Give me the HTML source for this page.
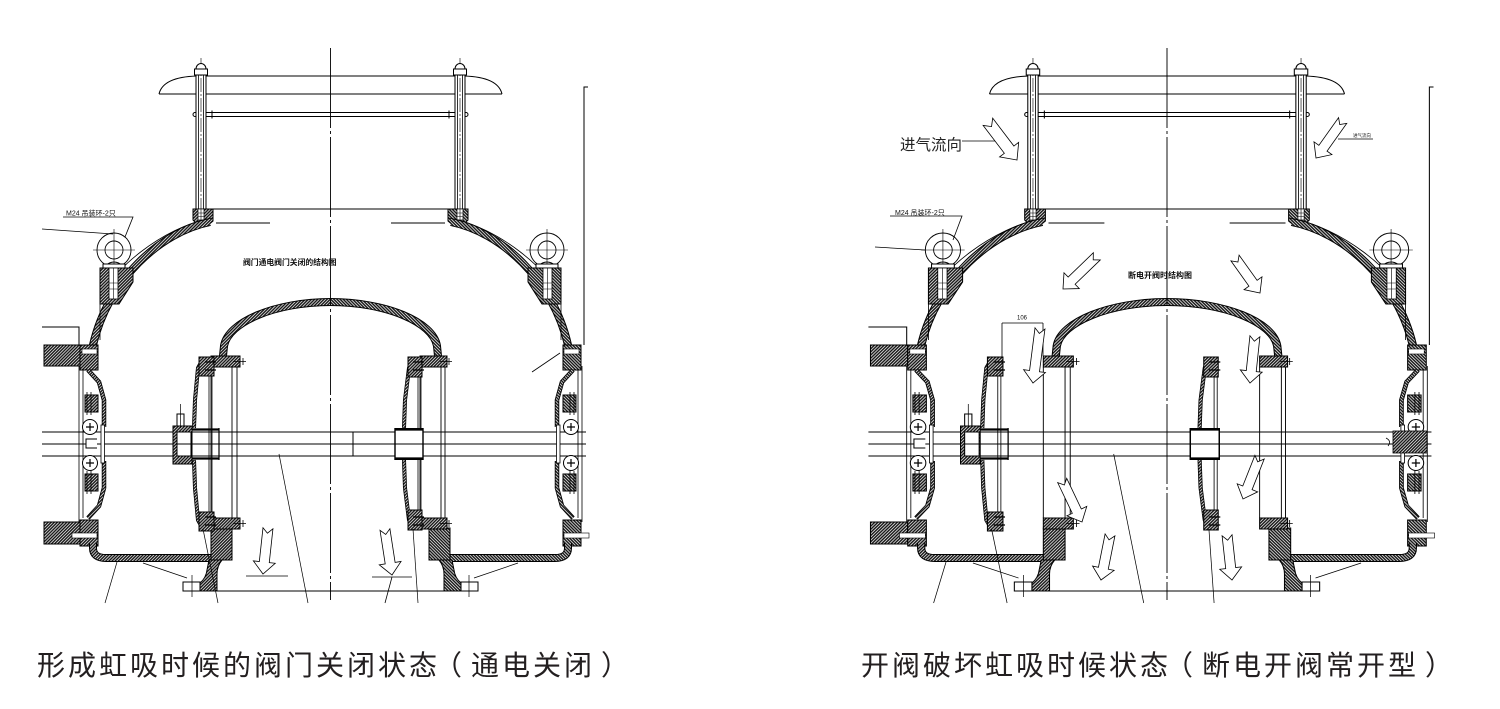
<!DOCTYPE html>
<html><head><meta charset="utf-8"><style>
html,body{margin:0;padding:0;background:#fff;}
svg{display:block;}
</style></head><body>
<svg width="1500" height="709" viewBox="0 0 1500 709" xmlns="http://www.w3.org/2000/svg">
<defs>
<pattern id="h" patternUnits="userSpaceOnUse" width="2.2" height="2.2" patternTransform="rotate(45)"><rect width="2.2" height="2.2" fill="#fff"/><rect width="1.5" height="2.2" fill="#1a1a1a"/></pattern>

<g id="half" fill="none" stroke="#000" stroke-width="1">
  <path d="M159,94 H331 M197,76 H331 M159,94 Q163,77 197,76"/>
  <path d="M197,112.5 H331 M197,116.5 H331 M212,110.5 V118.5"/>
  <circle cx="195" cy="114.5" r="2" fill="#fff"/>
  <rect x="196" y="74" width="10" height="135" fill="#fff"/>
  <path d="M198.5,75 V209 M203.5,75 V209" stroke-width="0.8"/>
  <path d="M201,58 V216" stroke-width="0.6" stroke-dasharray="14,2,2,2"/>
  <rect x="194.5" y="69" width="13" height="6" fill="#fff"/>
  <path d="M196,69 A5,5.5 0 0 1 206,69 Z" fill="#fff"/>
  <path d="M206,209 H331 M216,223 H270"/>
  <path d="M193,209 H213 V221 Q207,227 199,226 L193,220 Z" fill="url(#h)"/>
  <rect x="198" y="209" width="6" height="11" fill="#fff" stroke-width="0.7"/>
  <path d="M198,213 H204 M198,216.5 H204 M201,209 V220" stroke-width="0.6"/>
  <path d="M212,218 C162,227 110,272 101,298" stroke-width="0.8"/>
  <path d="M210,222 C160,232 108,280 93,345 L90,353" stroke-width="8"/>
  <path d="M210,222 C160,232 108,280 93,345 L90,353" stroke="url(#h)" stroke-width="6"/>
  <circle cx="114" cy="250" r="17" stroke-width="0.9"/>
  <circle cx="114" cy="250" r="9" stroke-width="0.9"/>
  <path d="M93,250 H135 M114,229 V271" stroke-width="0.6"/>
  <path d="M105,266 Q114,258 123,266" />
  <rect x="103" y="264" width="22" height="4" fill="#fff"/>
  <path d="M100,268 H133 V282 L119,304 H100 Z" fill="url(#h)"/>
  <rect x="109" y="268" width="9" height="31" fill="#fff" stroke-width="0.8"/>
  <path d="M109,283 H118 M109,289 H118 M113.5,268 V299" stroke-width="0.6"/>
  <path d="M100,303 V340" stroke-width="0.8"/>
  <rect x="80" y="345" width="18" height="25" fill="url(#h)"/>
  <rect x="82" y="349" width="15" height="5" fill="#fff" stroke-width="0.6"/>
  <path d="M79,366 V522 M83,370 V518" stroke-width="0.8"/>
  <path d="M88,370 L99,382 L104,400 L104,427 M104,461 L104,488 L99,506 L88,518" stroke-width="4.5"/>
  <path d="M88,370 L99,382 L104,400 L104,427 M104,461 L104,488 L99,506 L88,518" stroke="url(#h)" stroke-width="2.8"/>
  <rect x="85" y="395" width="13" height="17" fill="url(#h)"/>
  <rect x="85" y="474" width="13" height="17" fill="url(#h)"/>
  <path d="M87,392 V415 M91,392 V415 M87,471 V494 M91,471 V494" stroke-width="0.8"/>
  <circle cx="90" cy="427" r="7.5" fill="#fff"/>
  <circle cx="90" cy="463" r="7.5" fill="#fff"/>
  <path d="M86,427 H94 M90,423 V431 M86,463 H94 M90,459 V467" stroke-width="1.2"/>
  <rect x="101" y="425" width="3.5" height="38" fill="#fff" stroke-width="0.8"/>
  <rect x="80" y="520" width="18" height="26" fill="url(#h)"/>
  <rect x="72" y="533" width="25" height="5" fill="#fff" stroke-width="0.6"/>
  <path d="M93,543 V548 Q93,558 106,558 H213" stroke-width="8"/>
  <path d="M93,543 V548 Q93,558 106,558 H213" stroke="url(#h)" stroke-width="6"/>
  <rect x="211" y="528" width="21" height="32" fill="url(#h)"/>
  <path d="M209,560 H222 Q217,566 217,574 V591 H200 V583 Q206,578 207,570 Z" fill="url(#h)"/>
  <rect x="183" y="582" width="17" height="9" fill="#fff"/>
  <path d="M192,575 V597" stroke-width="0.7"/>
  <path d="M200,591 H331"/>
  <path d="M143,563 L187,578" stroke-width="0.7"/>
  <path d="M223,356 L224,346 C228,322 275,302 331,302" stroke-width="8"/>
  <path d="M223,356 L224,346 C228,322 275,302 331,302" stroke="url(#h)" stroke-width="6"/>
</g>

<g id="common" fill="none" stroke="#000" stroke-width="1">
  <path d="M42,432 H586 M42,444 H586 M42,456 H586"/>
  <rect x="44" y="345" width="36" height="21" fill="url(#h)"/>
  <rect x="44" y="522" width="36" height="22" fill="url(#h)"/>
  <path d="M42,327 H79 V345"/>
  <use href="#half"/>
  <use href="#half" transform="translate(661,0) scale(-1,1)"/>
  <path d="M97,439 H86 V448 H97" fill="#fff"/>
  <path d="M330.5,48 V600" stroke-width="0.9" stroke-dasharray="80,3,3,3"/>
  <path d="M584,345 V87 H588"/>
  <rect x="211" y="356" width="29" height="11" fill="url(#h)"/>
  <rect x="211" y="518" width="29" height="11" fill="url(#h)"/>
  <rect x="420" y="356" width="27" height="11" fill="url(#h)"/>
  <rect x="420" y="518" width="27" height="11" fill="url(#h)"/>
  <path d="M233,361.5 H246 M243,358 V365 M233,523.5 H246 M243,520 V527 M440,361.5 H452 M449,358 V365 M440,523.5 H452 M449,520 V527" stroke-width="0.8"/>
  <path d="M211,367 V518 M232,367 V518 M237,367 V518 M420,367 V518 M441,367 V518 M445,367 V518" stroke-width="0.9"/>
  <path d="M117,562 L105,603 M279,454 L308,603" stroke-width="0.7"/>
</g>

<g id="d1" fill="none" stroke="#000" stroke-width="1">
  <path d="M209,376 V512 M212,376 V512" stroke-width="0.8"/>
  <path d="M203,359 L198,368 L195,400 L194,428 M194,460 L195,488 L198,520 L203,529" stroke-width="4"/>
  <path d="M203,359 L198,368 L195,400 L194,428 M194,460 L195,488 L198,520 L203,529" stroke="url(#h)" stroke-width="2.5"/>
  <rect x="199" y="357" width="15" height="19" fill="url(#h)"/>
  <rect x="199" y="512" width="15" height="19" fill="url(#h)"/>
  <path d="M205,362 H216 M205,370 H216 M205,517 H216 M205,525 H216" stroke-width="1.2"/>
  <path d="M191,429.5 H219 M191,458.5 H219" stroke-width="2.2"/>
  <path d="M219,428 V460" stroke-width="1.2"/>
  <rect x="173" y="426" width="19" height="38" fill="url(#h)"/>
  <rect x="177" y="432" width="14" height="24" fill="#fff"/>
  <path d="M177,444 H191"/>
  <rect x="177" y="414" width="7" height="12" fill="#fff"/>
  <path d="M180.5,404 V428" stroke-width="0.7"/>
  <path d="M203,529 L218,603" stroke-width="0.7"/>
</g>

<g id="d2" fill="none" stroke="#000" stroke-width="1">
  <path d="M418,377 V510 M421,377 V510" stroke-width="0.8"/>
  <path d="M413,359 L409,368 L405,400 L404,428 M404,460 L405,488 L409,520 L413,529" stroke-width="4"/>
  <path d="M413,359 L409,368 L405,400 L404,428 M404,460 L405,488 L409,520 L413,529" stroke="url(#h)" stroke-width="2.5"/>
  <rect x="408" y="357" width="14" height="20" fill="url(#h)"/>
  <rect x="408" y="510" width="14" height="20" fill="url(#h)"/>
  <path d="M413,362 H424 M413,370 H424 M413,517 H424 M413,525 H424" stroke-width="1.2"/>
  <rect x="395" y="428.5" width="28" height="31" fill="#fff"/>
  <path d="M395,429.5 H423 M395,458.5 H423" stroke-width="2.2"/>
  <path d="M395,428 V460 M423,428 V460" stroke-width="1.4"/>
  <path d="M395,444 H423"/>
  <path d="M413,529 L418,603" stroke-width="0.7"/>
</g>
</defs>

<rect width="1500" height="709" fill="#fff"/>

<!-- LEFT DRAWING -->
<use href="#common"/>
<use href="#d1"/>
<use href="#d2"/>
<g fill="none" stroke="#000" stroke-width="0.8">
  <path d="M353,432 V456" stroke-width="1"/>
  <path d="M532,372 L560,353"/>
  <path d="M246,576 H288 M372,577 H412 M392,577 L385,603"/>
  <path d="M63,217 H133 L125,237 M42,229 L113,234"/>
</g>
<g fill="#fff" stroke="#000" stroke-width="0.8">
  <polygon transform="translate(263,574) rotate(6.2)" points="-5,-46 0,-41 5,-46 5,-12 11,-12 0,0 -11,-12 -5,-12"/>
  <polygon transform="translate(392,575) rotate(-8.8)" points="-5,-46 0,-41 5,-46 5,-12 11,-12 0,0 -11,-12 -5,-12"/>
</g>

<!-- RIGHT DRAWING -->
<g transform="translate(1167,0) scale(1.035,1) translate(-330.5,0)">
  <use href="#common"/>
  <use href="#d1" transform="translate(-42,0)"/>
  <use href="#d2" transform="translate(-42,0)"/>
</g>
<g fill="none" stroke="#000" stroke-width="0.8">
  <path d="M890,216 H962 L953,240 M875,247 L925,250"/>
  <path d="M962,141 H995"/>
  <path d="M1338,139 H1373"/>
  <path d="M1002,323 H1043 M1002,323 V358 M1043,323 V356"/>
</g>
<rect x="1393" y="431" width="34" height="22" fill="url(#h)" stroke="#000" stroke-width="0.8"/>
<path d="M1386,438 Q1392,441 1388,446" fill="none" stroke="#000" stroke-width="0.8"/>
<g fill="#fff" stroke="#000" stroke-width="0.8">
  <polygon transform="translate(1017,160) rotate(-37.3)" points="-6,-48 0,-42 6,-48 6,-13 12,-13 0,0 -12,-13 -6,-13"/>
  <polygon transform="translate(1316,158) rotate(35.4)" points="-5,-46 0,-41 5,-46 5,-12 11,-12 0,0 -11,-12 -5,-12"/>
  <polygon transform="translate(1063,289) rotate(46)" points="-5,-47 0,-42 5,-47 5,-12 11,-12 0,0 -11,-12 -5,-12"/>
  <polygon transform="translate(1260,293) rotate(-35.5)" points="-5,-43 0,-38 5,-43 5,-12 11,-12 0,0 -11,-12 -5,-12"/>
  <polygon transform="translate(1033,383) rotate(7.3)" points="-5,-55 0,-50 5,-55 5,-12 11,-12 0,0 -11,-12 -5,-12"/>
  <polygon transform="translate(1250,383) rotate(6)" points="-5,-47 0,-42 5,-47 5,-12 11,-12 0,0 -11,-12 -5,-12"/>
  <polygon transform="translate(1082,522) rotate(-25.5)" points="-5,-46 0,-41 5,-46 5,-12 11,-12 0,0 -11,-12 -5,-12"/>
  <polygon transform="translate(1243,499) rotate(21.6)" points="-5,-45 0,-40 5,-45 5,-12 11,-12 0,0 -11,-12 -5,-12"/>
  <polygon transform="translate(1101,580) rotate(11.3)" points="-5,-46 0,-41 5,-46 5,-12 11,-12 0,0 -11,-12 -5,-12"/>
  <polygon transform="translate(1232,580) rotate(-6.3)" points="-5,-45 0,-40 5,-45 5,-12 11,-12 0,0 -11,-12 -5,-12"/>
</g>

<!-- TEXT -->
<g font-family="'Liberation Sans','Noto Sans CJK SC',sans-serif" fill="#111">
  <text x="66" y="215.5" font-size="7">M24 吊装环-2只</text>
  <text x="895" y="215" font-size="7">M24 吊装环-2只</text>
  <text x="243" y="265" font-size="7.8" font-weight="bold">阀门通电阀门关闭的结构图</text>
  <text x="1128" y="278" font-size="8" font-weight="bold">断电开阀时结构图</text>
  <text x="1017" y="319.5" font-size="6">106</text>
  <text x="1353" y="137" font-size="4.5">进气流向</text>
  <text x="900" y="150" font-size="15.5" fill="#222">进气流向</text>
</g>
<g font-family="'Liberation Sans','Noto Sans CJK SC',sans-serif" font-size="28" fill="#231f20">
  <text x="37 68 99 130 161 192 223 254 285 316 347 378 409 434 471 502 533 564 601" y="675">形成虹吸时候的阀门关闭状态（通电关闭）</text>
  <text x="861 892 923 954 985 1016 1047 1078 1109 1140 1165 1202 1233 1264 1295 1326 1357 1388 1425" y="675">开阀破坏虹吸时候状态（断电开阀常开型）</text>
</g>
</svg>
</body></html>
